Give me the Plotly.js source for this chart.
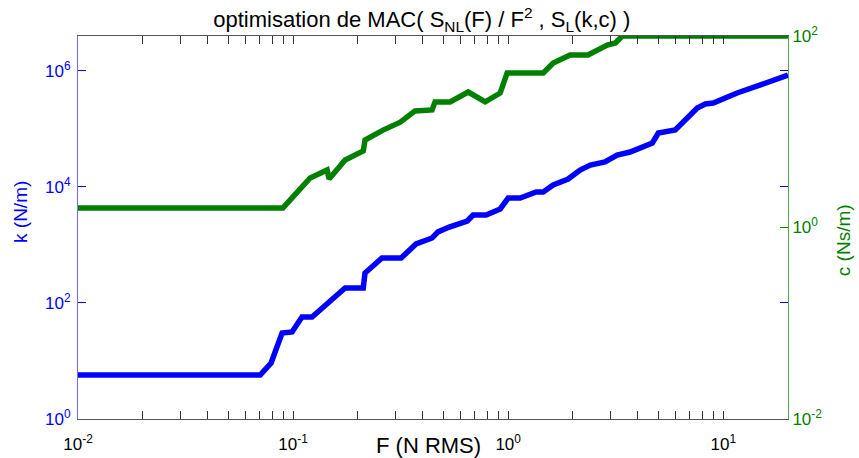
<!DOCTYPE html>
<html>
<head>
<meta charset="utf-8">
<script src="https://cdn.plot.ly/plotly-3.0.1.min.js"></script>
<style>html,body{margin:0;padding:0;background:#fff;}#chart{width:859px;height:458px;}</style>
</head>
<body>
<div id="chart"></div>
<script>
// k (N/m) versus F (N RMS) — left axis
const kF = [0.01, 0.0703, 0.079, 0.0889, 0.0989, 0.110, 0.1225, 0.144, 0.1745, 0.212, 0.216, 0.259, 0.318, 0.373, 0.443, 0.472, 0.532, 0.645, 0.687, 0.790, 0.918, 1.0, 1.137, 1.35, 1.455, 1.62, 1.90, 2.16, 2.41, 2.82, 3.21, 3.69, 4.34, 4.68, 4.99, 5.98, 7.57, 8.25, 8.98, 11.6, 14.9, 18.4, 20];
const kVal = [5.74, 5.74, 9.24, 30.4, 31.6, 57.4, 57.4, 96, 182, 182, 329, 597, 597, 1040, 1320, 1680, 2040, 2590, 3290, 3290, 4180, 6460, 6460, 8200, 8200, 10800, 13700, 19600, 23900, 27000, 35600, 40100, 53000, 57400, 85300, 96200, 230000, 270000, 281000, 418000, 574000, 757000, 853000];

// c (Ns/m) versus F (N RMS) — right axis
const cF = [0.01, 0.0897, 0.12, 0.144, 0.147, 0.1746, 0.212, 0.216, 0.262, 0.315, 0.369, 0.443, 0.457, 0.537, 0.652, 0.782, 0.918, 0.989, 1.455, 1.62, 1.94, 2.35, 2.89, 3.15, 3.39, 20];
const cVal = [1.6, 1.6, 3.29, 3.98, 3.21, 5.07, 6.3, 8.2, 10.4, 12.6, 16.5, 16.9, 20.5, 20.5, 26, 20.5, 25.4, 41.1, 41.1, 52.2, 63.4, 63.4, 80.5, 84.6, 100, 100];

// tick labels
const xTickVals = [0.01, 0.1, 1, 10];
const xTickText = ['10<sup>-2</sup>', '10<sup>-1</sup>', '10<sup>0</sup>', '10<sup>1</sup>'];
const xMinorMult = [2, 3, 4, 5, 6, 7, 8, 9];
const kTickVals = [1, 100, 10000, 1000000];
const kTickText = ['10<sup>0</sup>', '10<sup>2</sup>', '10<sup>4</sup>', '10<sup>6</sup>'];
const cTickVals = [0.01, 1, 100];
const cTickText = ['10<sup>-2</sup>', '10<sup>0</sup>', '10<sup>2</sup>'];

const xMinor = [];
xTickVals.forEach(d => xMinorMult.forEach(m => xMinor.push(d * m)));

const FONT = 'Liberation Sans, Arial, Helvetica, sans-serif';

const traces = [
  {x: kF, y: kVal, type: 'scatter', mode: 'lines', line: {color: '#0000ff', width: 5.5}, yaxis: 'y', hoverinfo: 'skip'},
  {x: cF, y: cVal, type: 'scatter', mode: 'lines', line: {color: '#008000', width: 5.5}, yaxis: 'y2', hoverinfo: 'skip'}
];

const layout = {
  width: 859, height: 458,
  margin: {l: 78, r: 71, t: 36, b: 39},
  paper_bgcolor: '#ffffff', plot_bgcolor: '#ffffff',
  showlegend: false,
  font: {family: FONT, size: 17, color: '#000'},
  title: {text: 'optimisation de MAC( S<sub>NL</sub>(F) / F<sup>2</sup> , S<sub>L</sub>(k,c) )',
          font: {family: FONT, size: 22, color: '#000'},
          xref: 'container', x: 0.491, xanchor: 'center', yref: 'container', y: 0.957, yanchor: 'middle'},
  xaxis: {
    type: 'log', range: [-2, Math.log10(20)],
    tickmode: 'array', tickvals: xTickVals, ticktext: xTickText,
    ticks: 'inside', ticklen: 8, tickwidth: 1, tickcolor: '#333',
    minor: {tickmode: 'array', tickvals: xMinor, ticks: 'inside', ticklen: 4, tickwidth: 1, tickcolor: '#333', showgrid: false},
    showline: true, linecolor: '#555', linewidth: 1, mirror: 'allticks',
    showgrid: false, zeroline: false, ticklabelstandoff: 10,
    tickfont: {family: FONT, size: 17, color: '#000'}
  },
  yaxis: {
    type: 'log', range: [0, 6.603],
    tickmode: 'array', tickvals: kTickVals, ticktext: kTickText,
    ticks: 'inside', ticklen: 8, tickwidth: 1, tickcolor: '#0000ff',
    showline: true, linecolor: '#7070ff', linewidth: 1, mirror: 'ticks',
    showgrid: false, zeroline: false, ticklabelstandoff: 3,
    tickfont: {family: FONT, size: 17, color: '#0000ff'}
  },
  yaxis2: {
    type: 'log', range: [-2, 2], overlaying: 'y', side: 'right',
    tickmode: 'array', tickvals: cTickVals, ticktext: cTickText,
    ticks: 'inside', ticklen: 8, tickwidth: 1, tickcolor: '#008000',
    showline: true, linecolor: '#4ca64c', linewidth: 1,
    showgrid: false, zeroline: false,
    tickfont: {family: FONT, size: 17, color: '#008000'}
  },
  annotations: [
    {text: 'F (N RMS)', xref: 'paper', yref: 'paper', x: 0.493, y: -0.068, xanchor: 'center', yanchor: 'middle', showarrow: false, font: {family: FONT, size: 22, color: '#000'}},
    {text: 'k (N/m)', xref: 'paper', yref: 'paper', x: -0.082, y: 0.54, xanchor: 'center', yanchor: 'middle', textangle: -90, showarrow: false, font: {family: FONT, size: 19, color: '#0000ff'}},
    {text: 'c (Ns/m)', xref: 'paper', yref: 'paper', x: 1.0775, y: 0.467, xanchor: 'center', yanchor: 'middle', textangle: -90, showarrow: false, font: {family: FONT, size: 19, color: '#008000'}}
  ]
};

Plotly.newPlot('chart', traces, layout, {staticPlot: true, displayModeBar: false});
</script>
</body>
</html>
